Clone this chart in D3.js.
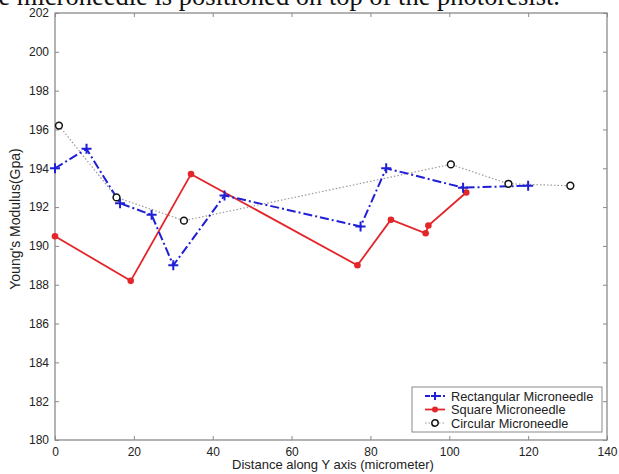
<!DOCTYPE html>
<html>
<head>
<meta charset="utf-8">
<script src="https://cdn.jsdelivr.net/npm/d3@7"></script>
<style>
  html, body { margin: 0; padding: 0; background: #fff; }
  svg { display: block; }
</style>
</head>
<body>
<svg id="chart"></svg>
<script>
// values
const rectX = [0, 8, 16.5, 24.5, 30, 43, 77.5, 84, 103.5, 120];
const rectY = [194, 195, 192.2, 191.6, 189, 192.6, 191, 194, 193, 193.1];

const squareX = [0, 19.2, 34.5, 76.7, 85.2, 94, 94.7, 104.3];
const squareY = [190.5, 188.2, 193.7, 189, 191.35, 190.65, 191.05, 192.75];

const circX = [1, 15.6, 32.7, 100.4, 115, 130.7];
const circY = [196.2, 192.5, 191.3, 194.2, 193.2, 193.1];

const xTicks = [0, 20, 40, 60, 80, 100, 120, 140];
const yTicks = [180, 182, 184, 186, 188, 190, 192, 194, 196, 198, 200, 202];

const seriesNames = ["Rectangular Microneedle", "Square Microneedle", "Circular Microneedle"];

const W = 619, H = 474;
const margin = { top: 13, right: 12, bottom: 34, left: 55 };
const width = W - margin.left - margin.right;
const height = H - margin.top - margin.bottom;

const svg = d3.select("#chart").attr("width", W).attr("height", H);

// caption line of the page, cut by the top edge
svg.append("text")
  .attr("x", 560)
  .attr("y", 5)
  .attr("text-anchor", "end")
  .style("font-family", "'Liberation Serif', 'Times New Roman', serif")
  .style("font-size", "26.5px")
  .style("fill", "#111")
  .text("Tube microneedle is positioned on top of the photoresist.");

const g = svg.append("g")
  .attr("transform", `translate(${margin.left},${margin.top})`);

const x = d3.scaleLinear().domain([0, 140]).range([0, width]);
const y = d3.scaleLinear().domain([180, 202]).range([height, 0]);

const axisColor = "#8a8a8a";
const fontFam = "'Liberation Sans', Arial, sans-serif";

// axes (ticks inside, mirrored on top/right like matlab)
function styleAxis(sel, showText) {
  sel.select(".domain").remove();
  sel.selectAll(".tick line").attr("stroke", axisColor);
  sel.selectAll(".tick text")
    .style("font-family", fontFam)
    .style("font-size", "12px")
    .style("fill", "#222")
    .style("display", showText ? null : "none");
}

g.append("g")
  .attr("transform", `translate(0,${height})`)
  .call(d3.axisBottom(x).tickValues(xTicks).tickSizeInner(-4).tickSizeOuter(0).tickPadding(7))
  .call(s => styleAxis(s, true));

g.append("g")
  .call(d3.axisTop(x).tickValues(xTicks).tickSizeInner(-4).tickSizeOuter(0))
  .call(s => styleAxis(s, false));

g.append("g")
  .call(d3.axisLeft(y).tickValues(yTicks).tickSizeInner(-4).tickSizeOuter(0).tickPadding(6))
  .call(s => styleAxis(s, true));

g.append("g")
  .attr("transform", `translate(${width},0)`)
  .call(d3.axisRight(y).tickValues(yTicks).tickSizeInner(-4).tickSizeOuter(0))
  .call(s => styleAxis(s, false));

g.append("rect")
  .attr("width", width)
  .attr("height", height)
  .attr("fill", "none")
  .attr("stroke", axisColor)
  .attr("stroke-width", 1.3);

// axis labels
g.append("text")
  .attr("x", width / 2 + 2)
  .attr("y", height + 29)
  .attr("text-anchor", "middle")
  .style("font-family", fontFam)
  .style("font-size", "13px")
  .style("fill", "#222")
  .text("Distance along Y axis (micrometer)");

g.append("text")
  .attr("transform", `translate(${-35},${219 - margin.top}) rotate(-90)`)
  .attr("text-anchor", "middle")
  .style("font-family", fontFam)
  .style("font-size", "14px")
  .style("fill", "#222")
  .text("Young's Modulus(Gpa)");

const line = d3.line().x(d => x(d[0])).y(d => y(d[1]));

const rectData = d3.zip(rectX, rectY);
const squareData = d3.zip(squareX, squareY);
const circData = d3.zip(circX, circY);

const blue = "#1f1fd6";
const red = "#e3262a";
const gray = "#9a9a9a";

// circular: dotted grey line with open black circles
g.append("path")
  .datum(circData)
  .attr("d", line)
  .attr("fill", "none")
  .attr("stroke", gray)
  .attr("stroke-width", 1.2)
  .attr("stroke-dasharray", "1.5,2");

// square: solid red line with dots
g.append("path")
  .datum(squareData)
  .attr("d", line)
  .attr("fill", "none")
  .attr("stroke", red)
  .attr("stroke-width", 1.8);

g.selectAll(".sq")
  .data(squareData)
  .enter()
  .append("circle")
  .attr("class", "sq")
  .attr("cx", d => x(d[0]))
  .attr("cy", d => y(d[1]))
  .attr("r", 3.3)
  .attr("fill", red);

// rectangular: blue dash-dot with plus markers
g.append("path")
  .datum(rectData)
  .attr("d", line)
  .attr("fill", "none")
  .attr("stroke", blue)
  .attr("stroke-width", 2)
  .attr("stroke-dasharray", "9,3,2,3");

g.selectAll(".rp")
  .data(rectData)
  .enter()
  .append("path")
  .attr("class", "rp")
  .attr("transform", d => `translate(${x(d[0])},${y(d[1])})`)
  .attr("d", "M-5,0H5M0,-5V5")
  .attr("stroke", blue)
  .attr("stroke-width", 2);

g.selectAll(".ci")
  .data(circData)
  .enter()
  .append("circle")
  .attr("class", "ci")
  .attr("cx", d => x(d[0]))
  .attr("cy", d => y(d[1]))
  .attr("r", 3.4)
  .attr("fill", "#fff")
  .attr("stroke", "#111")
  .attr("stroke-width", 1.5);

// legend
const legend = svg.append("g").attr("transform", "translate(412,387)");
legend.append("rect")
  .attr("width", 190)
  .attr("height", 45)
  .attr("fill", "#fff")
  .attr("stroke", axisColor)
  .attr("stroke-width", 1);

const legendItems = legend.selectAll(".legend-item")
  .data(seriesNames)
  .enter()
  .append("g")
  .attr("class", "legend-item")
  .attr("transform", (d, i) => `translate(0,${9 + i * 13.5})`);

legendItems.each(function (d, i) {
  const item = d3.select(this);
  if (i === 0) {
    item.append("line").attr("x1", 13).attr("x2", 33)
      .attr("stroke", blue).attr("stroke-width", 2).attr("stroke-dasharray", "5,2,2,2");
    item.append("path").attr("d", "M19,0H27M23,-4V4").attr("stroke", blue).attr("stroke-width", 2);
  } else if (i === 1) {
    item.append("line").attr("x1", 13).attr("x2", 33)
      .attr("stroke", red).attr("stroke-width", 1.8);
    item.append("circle").attr("cx", 23).attr("r", 3).attr("fill", red);
  } else {
    item.append("line").attr("x1", 13).attr("x2", 33)
      .attr("stroke", gray).attr("stroke-width", 1.2).attr("stroke-dasharray", "1.5,2");
    item.append("circle").attr("cx", 23).attr("r", 3.2)
      .attr("fill", "#fff").attr("stroke", "#111").attr("stroke-width", 1.5);
  }
  item.append("text")
    .attr("x", 39)
    .attr("y", 4.5)
    .style("font-family", fontFam)
    .style("font-size", "12.8px")
    .style("fill", "#222")
    .text(d);
});
</script>
</body>
</html>
